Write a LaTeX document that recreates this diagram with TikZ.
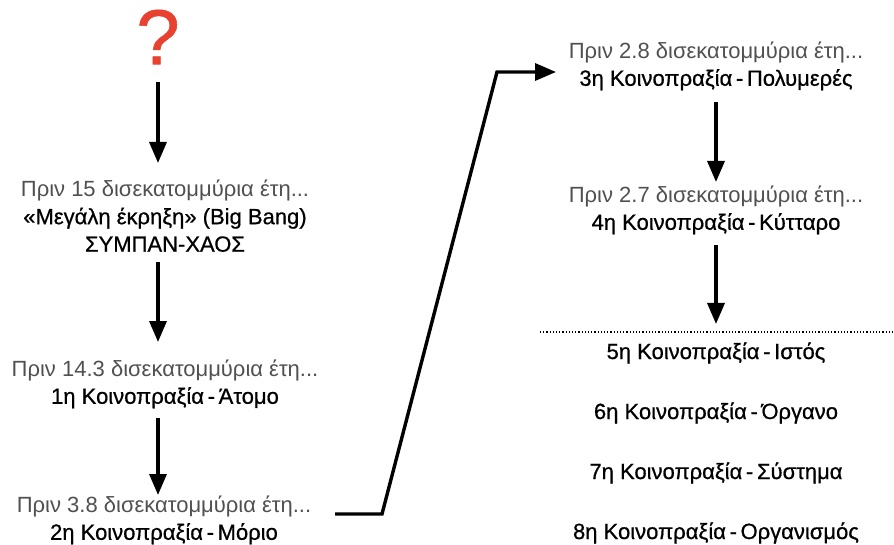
\documentclass[tikz,border=0pt]{standalone}
\usepackage{fontspec}
\setmainfont{Liberation Sans}
\newfontface\medium{Liberation Sans}[FakeBold=0.7]
\usetikzlibrary{arrows.meta,positioning}
\definecolor{qred}{HTML}{E8412F}
\definecolor{when}{HTML}{505050}
\newcommand{\dash}{\,-\,}

\begin{document}
\begin{tikzpicture}
                [
                    x=1pt, y=-1pt,
                    stage/.style={align=center, inner sep=0pt, font=\fontsize{22}{27.5}\selectfont},
                    later/.style={inner sep=0pt, font=\fontsize{22}{24}\selectfont\medium},
                    arrowline/.style={line width=3.4pt, -{Triangle[length=21pt,width=17pt]}},
                ]
                \useasboundingbox (0,0) rectangle (894,545);

                \node [text=qred, inner sep=0pt, font=\fontsize{78}{78}\selectfont\medium] (q) at (158,37) {?};
                \node [stage] (bang) at (165,216) {\textcolor{when}{Πριν 15 δισεκατομμύρια έτη...}\\{\medium «Μεγάλη έκρηξη» (Big Bang)}\\{\medium ΣΥΜΠΑΝ-ΧΑΟΣ}};
                \node [stage] (atom) at (165,384) {\textcolor{when}{Πριν 14.3 δισεκατομμύρια έτη...}\\{\medium 1η Κοινοπραξία\dash Άτομο}};
                \node [stage] (molec) at (164,520) {\textcolor{when}{Πριν 3.8 δισεκατομμύρια έτη...}\\{\medium 2η Κοινοπραξία\dash Μόριο}};
                \node [stage] (poly) at (716,66) {\textcolor{when}{Πριν 2.8 δισεκατομμύρια έτη...}\\{\medium 3η Κοινοπραξία\dash Πολυμερές}};
                \node [stage] (cell) at (716,210) {\textcolor{when}{Πριν 2.7 δισεκατομμύρια έτη...}\\{\medium 4η Κοινοπραξία\dash Κύτταρο}};

                \node [later] (tissue) at (716,353) {5η Κοινοπραξία\dash Ιστός};
                \node [later] (organ) at (716,413) {6η Κοινοπραξία\dash Όργανο};
                \node [later] (system) at (716,473) {7η Κοινοπραξία\dash Σύστημα};
                \node [later] (organism) at (716,533) {8η Κοινοπραξία\dash Οργανισμός};

                \coordinate (line1) at (540,332);
                \coordinate (line2) at (894,332);
                \coordinate (k0) at (335,514);
                \coordinate (k1) at (382,514);
                \coordinate (k2) at (497,72);
                \coordinate (k3) at (556,72);

                \draw[arrowline] (158,82) -- (158,163);
                \draw[arrowline] (158,262) -- (158,342);
                \draw[arrowline] (158,418) -- (158,495);
                \draw[arrowline] (716,102) -- (716,182);
                \draw[arrowline] (716,245) -- (716,324);
                \draw[arrowline] (k0) -- (k1) -- (k2) -- (k3);
                \draw[line width=1.2pt, dotted] (line1) -- (line2);
            \end{tikzpicture}
\end{document}
